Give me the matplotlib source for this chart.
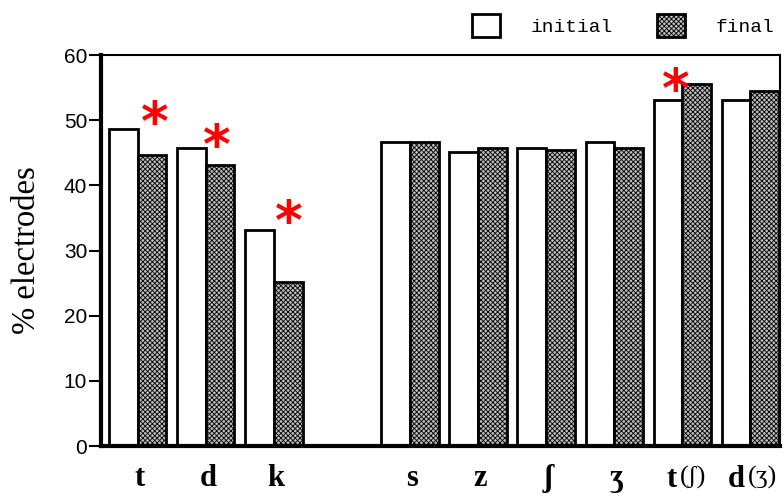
import matplotlib
matplotlib.use("Agg")
import matplotlib.pyplot as plt
import numpy as np

positions = [0, 1, 2, 4, 5, 6, 7, 8, 9]
labels = ["t", "d", "k", "s", "z", "ʃ", "ʒ", "t", "d"]
label_suffix = ["", "", "", "", "", "", "", "(ʃ)", "(ʒ)"]
initial = [48.6, 45.8, 33.1, 46.6, 45.1, 45.8, 46.6, 53.1, 53.1]
final = [44.6, 43.2, 25.2, 46.6, 45.8, 45.4, 45.7, 55.5, 54.5]
star_positions = [0.25, 1.16, 2.22, 7.9]
star_heights = [51.2, 47.8, 36.0, 56.3]
yticks = [0, 10, 20, 30, 40, 50, 60]

fig = plt.figure(figsize=(7.84, 4.98), dpi=100)
ax = fig.add_axes([0.129, 0.1044, 0.866, 0.785])

x = np.array(positions, dtype=float)
w = 0.42
plt.rcParams['hatch.color'] = '#555555'
plt.rcParams['hatch.linewidth'] = 0.6
b1 = ax.bar(x - w / 2, initial, w, facecolor='white', edgecolor='black', linewidth=2, label='initial')
b2 = ax.bar(x + w / 2, final, w, facecolor='#bdbdbd', edgecolor='black', linewidth=2,
            hatch='xxxxxxx', label='final')

for sx, sy in zip(star_positions, star_heights):
    ax.text(sx, sy - 2.0, "*", color='red', fontsize=38, fontweight='bold', ha='center', va='center',
            family='DejaVu Sans', clip_on=False)

ax.set_xlim(-0.54, 9.44)
ax.set_ylim(0, 60)
ax.set_yticks(yticks)
ax.set_yticklabels([str(v) for v in yticks], fontsize=15, family='Liberation Sans')
ax.tick_params(axis='y', direction='out', length=9, width=1.5, pad=1)

simple = [i for i, s in enumerate(label_suffix) if s == ""]
ax.set_xticks([x[i] + 0.03 for i in simple])
ax.set_xticklabels([labels[i] for i in simple], fontsize=22, fontweight='bold',
                   family=['Liberation Serif', 'DejaVu Serif'])
ax.tick_params(axis='x', length=0, pad=13)

# compound labels
for i, s in enumerate(label_suffix):
    if s == "":
        continue
    ax.text(x[i] - 0.08, -5.2, labels[i], fontsize=22, fontweight='bold', ha='right', va='center',
            family=['Liberation Serif', 'DejaVu Serif'], clip_on=False)
    ax.text(x[i] - 0.04, -4.8, s, fontsize=19, ha='left', va='center',
            family=['Liberation Serif', 'DejaVu Serif'], clip_on=False)

ax.set_ylabel("% electrodes", fontsize=23.5, family='Liberation Serif')
ax.yaxis.set_label_coords(-0.087, 0.5)

for side in ['left', 'bottom']:
    ax.spines[side].set_linewidth(3)
for side in ['top', 'right']:
    ax.spines[side].set_linewidth(1.5)

leg = ax.legend(handles=[b1, b2], ncol=2, loc='lower right', bbox_to_anchor=(1.003, 1.026),
                frameon=False, prop={'family': 'Liberation Mono', 'size': 14},
                handlelength=1.44, handleheight=1.44, handletextpad=1.55, columnspacing=2.3,
                borderaxespad=0)

fig.savefig("out.png", dpi=100)
